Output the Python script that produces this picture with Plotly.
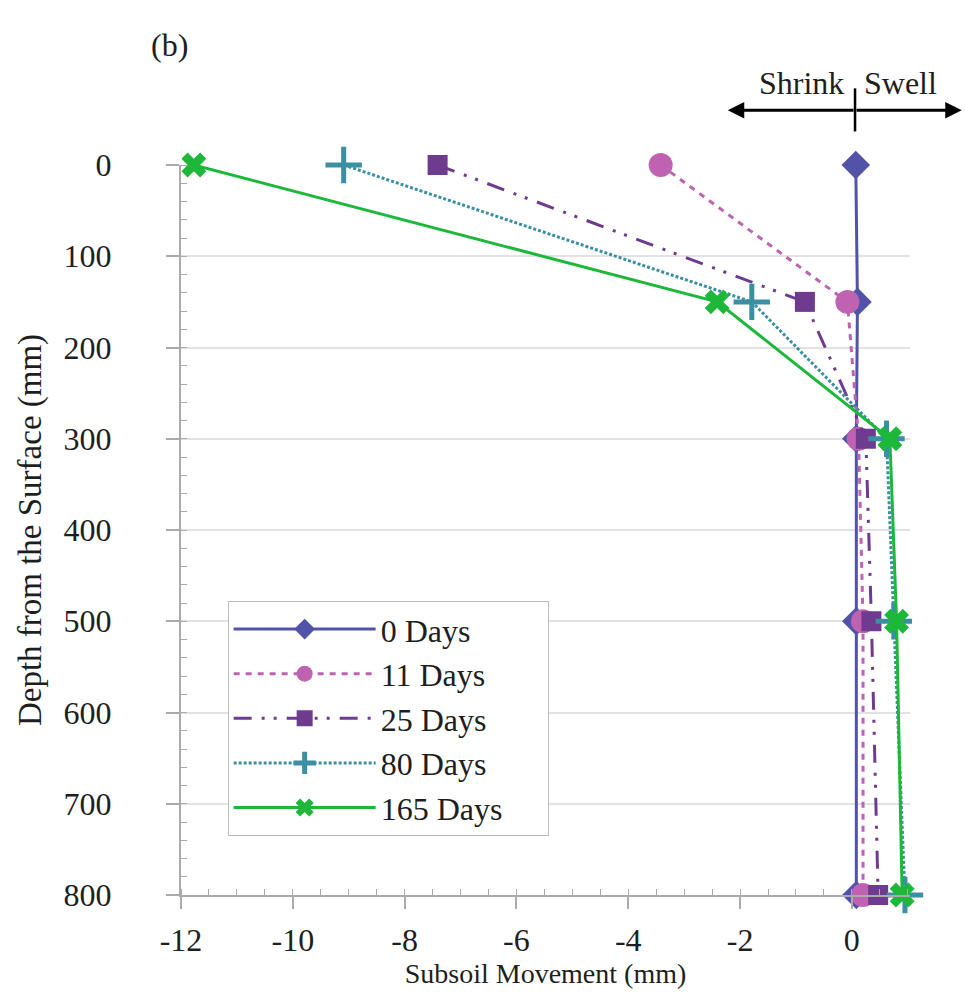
import plotly.graph_objects as go

depth = [0, 150, 300, 500, 800]
series_names = ["0 Days", "11 Days", "25 Days", "80 Days", "165 Days"]
days_0 = [0.07, 0.1, 0.08, 0.08, 0.08]
days_11 = [-3.42, -0.08, 0.12, 0.2, 0.2]
days_25 = [-7.41, -0.84, 0.25, 0.35, 0.47]
days_80 = [-9.09, -1.79, 0.62, 0.75, 0.95]
days_165 = [-11.77, -2.41, 0.68, 0.8, 0.9]

x_ticks = [-12, -10, -8, -6, -4, -2, 0]
y_ticks = [0, 100, 200, 300, 400, 500, 600, 700, 800]

FONT = "Liberation Serif"
TXT = "#1E1E1E"
AX = "#AAAAAA"
PAD = "\u00a0" * 5

styles = [
    dict(color="#5252A8", dash="solid", symbol="diamond", size=22, lw=0),
    dict(color="#BF62B2", dash="6px,6px", symbol="circle", size=24, lw=0),
    dict(color="#6F3B8F", dash="18px,10px,3px,9px,3px,10px", symbol="square", size=20, lw=0),
    dict(color="#3B8FA3", dash="3px,2px", symbol="cross-thin", size=26, lw=5),
    dict(color="#1DB83A", dash="solid", symbol="x", size=22, lw=0),
]
data = [days_0, days_11, days_25, days_80, days_165]

fig = go.Figure()
for name, vals, st in zip(series_names, data, styles):
    mk = dict(symbol=st["symbol"], size=st["size"], color=st["color"])
    if st["lw"]:
        mk["line"] = dict(color=st["color"], width=st["lw"])
    else:
        mk["line"] = dict(width=0)
    fig.add_trace(go.Scatter(
        x=vals, y=depth, name=name + PAD, mode="lines+markers",
        line=dict(color=st["color"], width=3, dash=st["dash"]),
        marker=mk, cliponaxis=False, legendgroup=name,
    ))

fig.update_layout(
    width=965, height=1002,
    margin=dict(l=181, r=55, t=165, b=107, autoexpand=False),
    paper_bgcolor="white", plot_bgcolor="white",
    font=dict(family=FONT, size=24, color=TXT),
    showlegend=True,
    legend=dict(
        x=0.064, y=0.403, xanchor="left", yanchor="top",
        bgcolor="white", bordercolor="#BBBBBB", borderwidth=1,
        font=dict(family=FONT, size=32, color=TXT),
        itemwidth=142, tracegroupgap=0,
    ),
    xaxis=dict(
        range=[-12, 1.04], tickvals=x_ticks, ticktext=[str(v) for v in x_ticks],
        showgrid=False, zeroline=False, automargin=False,
        showline=True, linecolor=AX, linewidth=2,
        ticks="outside", ticklen=12, tickwidth=2, tickcolor=AX,
        minor=dict(dtick=0.5, ticks="inside", ticklen=6, tickcolor=AX, tickwidth=1, showgrid=False),
        tickfont=dict(family=FONT, size=32, color=TXT),
        ticklabelstandoff=4,
        title=dict(text="Subsoil Movement (mm)", font=dict(family=FONT, size=28, color=TXT), standoff=6),
    ),
    yaxis=dict(
        range=[800, 0], tickvals=y_ticks, ticktext=[str(v) for v in y_ticks],
        showgrid=True, gridcolor="#E2E2E2", gridwidth=1.5, zeroline=False, automargin=False,
        showline=True, linecolor=AX, linewidth=2,
        ticks="outside", ticklen=13, tickwidth=2, tickcolor=AX,
        minor=dict(dtick=20, ticks="inside", ticklen=6, tickcolor=AX, tickwidth=1, showgrid=False),
        tickfont=dict(family=FONT, size=32, color=TXT),
        ticklabelstandoff=48,
        title=dict(text="Depth from the Surface (mm)", font=dict(family=FONT, size=33, color=TXT), standoff=12),
    ),
    # overlay axes supplying the inner half of the crossing major ticks
    xaxis2=dict(overlaying="x", matches="x", anchor="y", side="bottom", range=[-12, 1.04],
                tickvals=x_ticks, showticklabels=False, showgrid=False, zeroline=False, showline=False,
                ticks="inside", ticklen=14, tickwidth=2, tickcolor=AX, automargin=False),
    yaxis2=dict(overlaying="y", matches="y", anchor="x", side="left", range=[800, 0],
                tickvals=y_ticks, showticklabels=False, showgrid=False, zeroline=False, showline=False,
                ticks="inside", ticklen=16, tickwidth=2, tickcolor=AX, automargin=False),
)

# Shrink / Swell indicator (paper coordinates)
cx = 0.9246
fig.add_shape(type="line", xref="paper", yref="paper", x0=cx, x1=cx, y0=1.046, y1=1.105,
              line=dict(color="black", width=2.5))
for tip in (0.750, 1.071):
    fig.add_annotation(xref="paper", yref="paper", x=tip, y=1.075, axref="pixel", ayref="pixel",
                       ax=(cx - tip) * 729, ay=0, text="", showarrow=True, arrowhead=2,
                       arrowsize=1.1, arrowwidth=3, arrowcolor="black")
fig.add_annotation(xref="paper", yref="paper", x=cx - 0.012, y=1.113, text="Shrink", showarrow=False,
                   xanchor="right", yanchor="middle", font=dict(family=FONT, size=32, color=TXT))
fig.add_annotation(xref="paper", yref="paper", x=cx + 0.01, y=1.113, text="Swell", showarrow=False,
                   xanchor="left", yanchor="middle", font=dict(family=FONT, size=32, color=TXT))
fig.add_annotation(xref="paper", yref="paper", x=-0.044, y=1.165, text="(b)", showarrow=False,
                   xanchor="left", yanchor="middle", font=dict(family=FONT, size=32, color=TXT))

fig.write_html("out.html")
